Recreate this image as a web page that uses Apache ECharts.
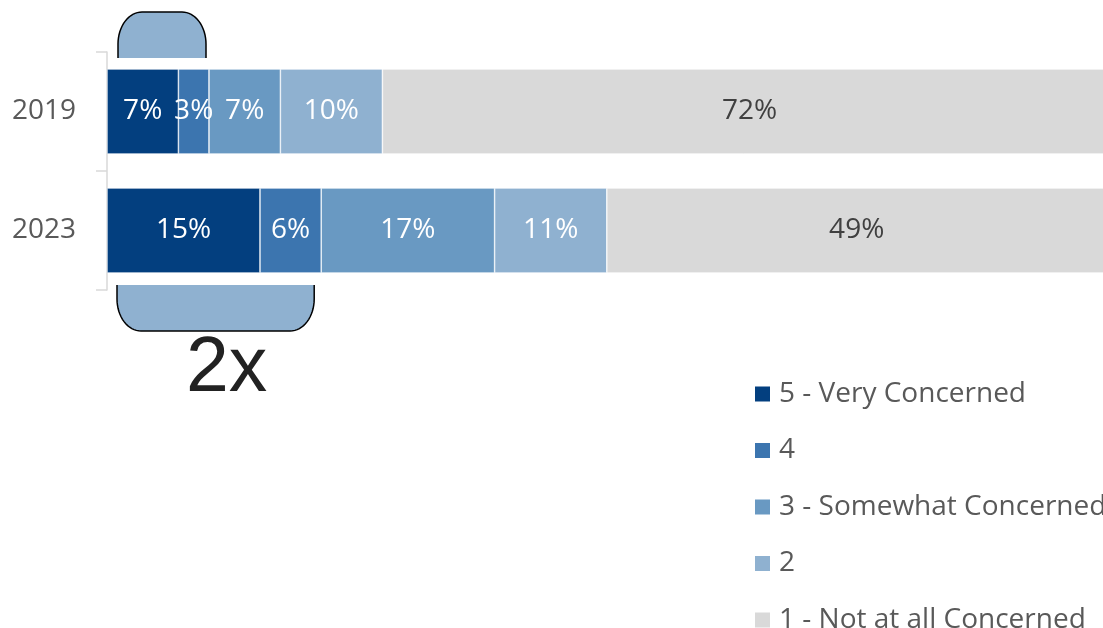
<!DOCTYPE html>
<html>
<head>
<meta charset="utf-8">
<script src="https://cdn.jsdelivr.net/npm/echarts@6/dist/echarts.min.js"></script>
<style>
  html, body { margin: 0; padding: 0; background: #fff; }
  #chart { width: 1103px; height: 628px; }
</style>
</head>
<body>
<div id="chart"></div>
<script>
// level of concern, share of respondents per year
const years = ['2019', '2023'];
const levels = ['5 - Very Concerned', '4', '3 - Somewhat Concerned', '2', '1 - Not at all Concerned'];
const colors = ['#033f7f', '#3c75af', '#6999c2', '#8fb1d0', '#d9d9d9'];
const values = [
    [7, 15],   // 5 - Very Concerned
    [3, 6],    // 4
    [7, 17],   // 3 - Somewhat Concerned
    [10, 11],  // 2
    [72, 49]   // 1 - Not at all Concerned
];
const annotation = '2x';

const FONT = '"Open Sans", "Noto Sans", sans-serif';

const chart = echarts.init(document.getElementById('chart'));

const series = levels.map((name, i) => ({
    name: name,
    type: 'bar',
    stack: 'total',
    barWidth: 85,
    data: values[i],
    itemStyle: { color: colors[i], borderColor: '#ffffff', borderWidth: 0.6 },
    label: {
        show: true,
        position: 'inside',
        formatter: '{c}%',
        fontFamily: FONT,
        fontSize: 28,
        color: i === 4 ? '#404040' : '#ffffff'
    },
    emphasis: { disabled: true }
}));

chart.setOption({
    animation: false,
    grid: { left: 107, top: 52, width: 1020, height: 238, outerBoundsMode: 'none' },
    xAxis: {
        type: 'value',
        min: 0,
        max: 100,
        show: false
    },
    yAxis: {
        type: 'category',
        data: years,
        inverse: true,
        axisLine: { show: true, lineStyle: { color: '#d9d9d9', width: 1.5 } },
        axisTick: { show: true, length: 11, lineStyle: { color: '#d9d9d9', width: 1.5 } },
        axisLabel: { margin: 31, fontFamily: FONT, fontSize: 28, color: '#595959' }
    },
    legend: {
        orient: 'vertical',
        left: 753,
        top: 380,
        height: 320,
        padding: 0,
        itemWidth: 17,
        itemHeight: 17,
        itemGap: 28.5,
        icon: 'rect',
        textStyle: { fontFamily: FONT, fontSize: 28, color: '#595959', padding: [0, 0, 0, 3] },
        data: levels
    },
    series: series
});

// outline of a bracket: open at yOpen, rounded corners at yClosed
function bracketPoints(x0, x1, yOpen, yClosed) {
    const dir = yClosed < yOpen ? -1 : 1;
    const rx = 24, ry = 32;
    const pts = [[x0, yOpen]];
    for (let i = 0; i <= 16; i++) {
        const a = (Math.PI / 2) * i / 16;
        pts.push([x0 + rx - rx * Math.cos(a), yClosed - dir * ry + dir * ry * Math.sin(a)]);
    }
    for (let i = 0; i <= 16; i++) {
        const a = (Math.PI / 2) * i / 16;
        pts.push([x1 - rx + rx * Math.sin(a), yClosed - dir * ry + dir * ry * Math.cos(a)]);
    }
    pts.push([x1, yOpen]);
    return pts;
}

// brackets over the top-two-box share, anchored to the axis scale
const topTwo = years.map((y, j) => values[0][j] + values[1][j]);
const xStart = chart.convertToPixel({ xAxisIndex: 0 }, 0);
const xTop = chart.convertToPixel({ xAxisIndex: 0 }, topTwo[0]);
const xBottom = chart.convertToPixel({ xAxisIndex: 0 }, topTwo[1]);

const shapes = [
    { x0: xStart + 11, x1: xTop - 3, yOpen: 58, yClosed: 12 },
    { x0: xStart + 10, x1: xBottom - 7, yOpen: 285, yClosed: 331 }
];

const graphic = [];
shapes.forEach(s => {
    const pts = bracketPoints(s.x0, s.x1, s.yOpen, s.yClosed);
    graphic.push({
        type: 'polygon',
        shape: { points: pts },
        style: { fill: '#8fb1d0', stroke: null }
    });
    graphic.push({
        type: 'polyline',
        shape: { points: pts },
        style: { fill: null, stroke: '#000000', lineWidth: 1.5 }
    });
});

graphic.push({
    type: 'text',
    left: 186,
    top: 331,
    style: {
        text: annotation,
        fontFamily: '"Liberation Sans", Arial, sans-serif',
        fontSize: 77,
        fill: '#222222',
        textShadowColor: '#cfe6ea',
        textShadowOffsetX: 3,
        textShadowOffsetY: 3,
        textShadowBlur: 0
    }
});

chart.setOption({ graphic: graphic });

window.addEventListener('resize', function() {
    chart.resize();
});
</script>
</body>
</html>
